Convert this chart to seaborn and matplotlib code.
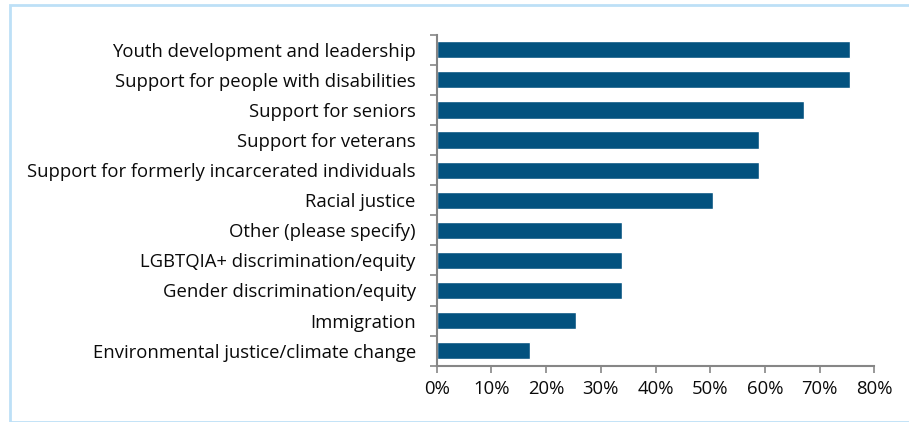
import matplotlib
matplotlib.use("Agg")
import matplotlib.pyplot as plt
import seaborn as sns
import pandas as pd
from matplotlib.patches import Rectangle
from matplotlib.ticker import PercentFormatter

categories = [
    "Youth development and leadership",
    "Support for people with disabilities",
    "Support for seniors",
    "Support for veterans",
    "Support for formerly incarcerated individuals",
    "Racial justice",
    "Other (please specify)",
    "LGBTQIA+ discrimination/equity",
    "Gender discrimination/equity",
    "Immigration",
    "Environmental justice/climate change",
]
shares = [75.6, 75.6, 67.2, 58.9, 58.9, 50.6, 33.8, 33.8, 33.8, 25.5, 17.1]
x_ticks = [0, 10, 20, 30, 40, 50, 60, 70, 80]

df = pd.DataFrame({"category": categories, "share": shares})

sns.set_theme(style="white")
plt.rcParams["font.family"] = ["Open Sans", "DejaVu Sans"]

fig = plt.figure(figsize=(9.09, 4.22), dpi=100)
ax = fig.add_axes([436.7 / 909, 1 - 365.7 / 422, (874.3 - 436.7) / 909, (365.7 - 34.7) / 422])

sns.barplot(data=df, x="share", y="category", color="#03527F", width=0.57,
            saturation=1, ax=ax, orient="h")

ax.set_xlim(0, 80)
ax.set_xticks(x_ticks)
ax.xaxis.set_major_formatter(PercentFormatter(decimals=0))
ax.set_xlabel("")
ax.set_ylabel("")

ax.set_yticks([i - 0.5 for i in range(len(categories) + 1)], minor=True)
ax.tick_params(axis="y", which="major", length=0, pad=15, labelsize=13.3, labelcolor="#0A0A0A")
ax.tick_params(axis="y", which="minor", length=5, width=1.2, color="#868686", direction="out", left=True)
ax.tick_params(axis="x", which="major", length=5, width=1.2, color="#868686", direction="out",
               bottom=True, pad=5, labelsize=13.3, labelcolor="#0A0A0A")

for side in ["top", "right"]:
    ax.spines[side].set_visible(False)
for side in ["left", "bottom"]:
    ax.spines[side].set_color("#868686")
    ax.spines[side].set_linewidth(1.5)

fig.patches.append(Rectangle((10 / 909, 0.5 / 422), 1.2, (416.5) / 422,
                             transform=fig.transFigure, fill=False,
                             edgecolor="#BDE0F7", linewidth=2))

fig.savefig("out.png", dpi=100)
